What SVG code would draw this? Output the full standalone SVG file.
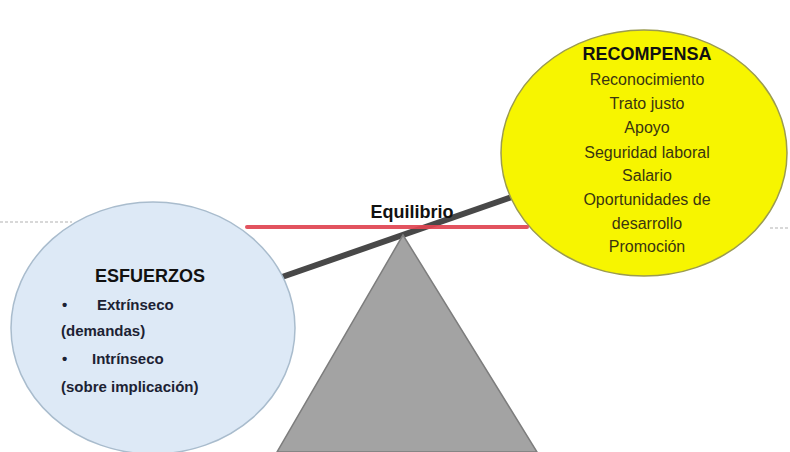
<svg xmlns="http://www.w3.org/2000/svg" width="790" height="452" viewBox="0 0 790 452">
<style>
.t{font-family:"Liberation Sans",Arial,sans-serif}
.h{font-weight:bold;font-size:18px;fill:#111}
.y{font-size:16px;fill:#3a3510;text-anchor:middle}
.b{font-weight:bold;font-size:15px;fill:#1c2233}
</style>
<rect width="790" height="452" fill="#fff"/>
<line x1="0" y1="222" x2="72" y2="222" stroke="#ccc" stroke-width="1.5" stroke-dasharray="3 2"/>
<line x1="770" y1="228" x2="790" y2="228" stroke="#ccc" stroke-width="1.5" stroke-dasharray="3 2"/>
<g id="connectors">
<line x1="282" y1="277" x2="512" y2="197" stroke="#484848" stroke-width="6"/>
</g>
<g id="esfuerzos">
<ellipse cx="153" cy="328" rx="142" ry="126" fill="#dde9f6" stroke="#a9bccd" stroke-width="1.5"/>
<text class="t h" x="150" y="282" text-anchor="middle">ESFUERZOS</text>
<text class="t b" x="62" y="310">•</text>
<text class="t b" x="97" y="310">Extrínseco</text>
<text class="t b" x="61" y="336">(demandas)</text>
<text class="t b" x="62" y="364">•</text>
<text class="t b" x="92" y="364">Intrínseco</text>
<text class="t b" x="61" y="392">(sobre implicación)</text>
</g>
<g id="recompensa">
<ellipse cx="644" cy="153" rx="143" ry="123" fill="#f7f500" stroke="#9b9b50" stroke-width="1.5"/>
<text class="t h" x="647" y="60" text-anchor="middle">RECOMPENSA</text>
<text class="t y" x="647" y="85">Reconocimiento</text>
<text class="t y" x="647" y="109">Trato justo</text>
<text class="t y" x="647" y="133">Apoyo</text>
<text class="t y" x="647" y="158">Seguridad laboral</text>
<text class="t y" x="647" y="181">Salario</text>
<text class="t y" x="647" y="205">Oportunidades de</text>
<text class="t y" x="647" y="229">desarrollo</text>
<text class="t y" x="647" y="252">Promoción</text>
</g>
<g id="fulcro">
<polygon points="403,235 277,452 537,452" fill="#a3a3a3" stroke="#7d7d7d" stroke-width="1.5"/>
</g>
<g id="equilibrio-linea">
<line x1="247" y1="227" x2="527" y2="227" stroke="#e04552" stroke-width="4" stroke-linecap="round" opacity="0.92"/>
</g>
<g id="equilibrio">
<text class="t" x="412" y="218" text-anchor="middle" font-weight="bold" font-size="18" fill="#111">Equilibrio</text>
</g>
</svg>
